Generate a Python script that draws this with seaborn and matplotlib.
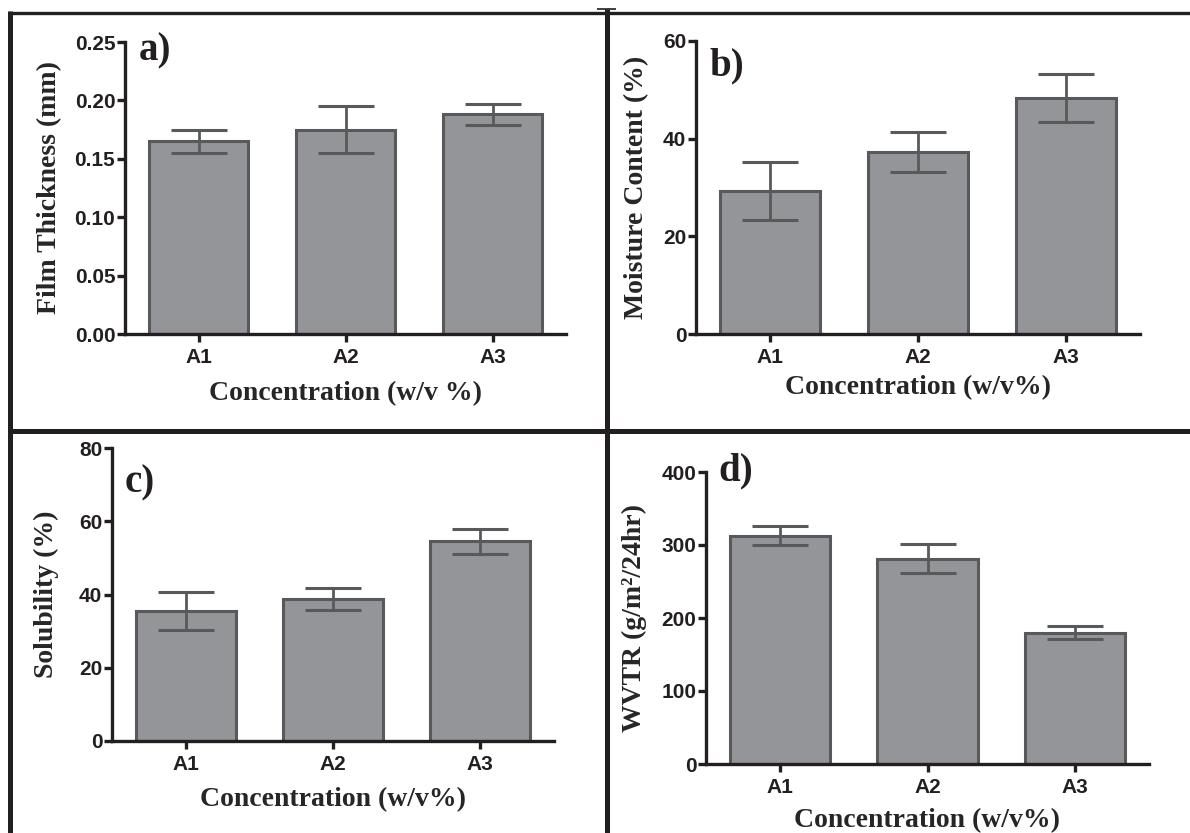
import numpy as np
import pandas as pd
import matplotlib
matplotlib.use("Agg")
import matplotlib.pyplot as plt
from matplotlib.lines import Line2D
import seaborn as sns

# data
categories = ["A1", "A2", "A3"]

thickness = [0.165, 0.175, 0.188]
thickness_err = [0.010, 0.020, 0.009]

moisture = [29.3, 37.2, 48.4]
moisture_err = [5.9, 4.1, 4.9]

solubility = [35.5, 38.8, 54.5]
solubility_err = [5.2, 3.0, 3.4]

wvtr = [313, 281, 180]
wvtr_err = [12.5, 20, 9]

sns.set_theme(style="ticks")

W, H = 1190, 833
fig = plt.figure(figsize=(W / 100, H / 100), dpi=100)

bar_face = "#939598"
bar_edge = "#58595b"
ink = "#231f20"

tick_font = dict(family="Liberation Sans", weight="bold", size=15)
label_font = dict(family="Liberation Serif", weight="bold", size=20)
letter_font = dict(family="Liberation Serif", weight="bold", size=28)


def px_axes(left, right, top, bottom):
    ax = fig.add_axes([left / W, 1 - bottom / H, (right - left) / W, (bottom - top) / H])
    ax._px = (left, right, top, bottom)
    return ax


def draw_panel(ax, vals, errs, ylim, yticks, ylabel, xlabel, ytickfmt,
               ylabel_x, xlabel_y, letter, letter_xy):
    left, right, top, bottom = ax._px
    df = pd.DataFrame({"cat": categories, "val": vals})
    sns.barplot(data=df, x="cat", y="val", color=bar_face, saturation=1,
                edgecolor=bar_edge, linewidth=2.2, width=0.68, errorbar=None, ax=ax)
    ax.errorbar(x=np.arange(len(categories)), y=vals, yerr=errs, fmt="none",
                ecolor=bar_edge, elinewidth=2.0, capsize=20, capthick=2.2, zorder=5)
    ax.set_xlim(-0.5, 2.5)
    ax.set_ylim(*ylim)
    ax.set_yticks(yticks)
    ax.set_yticklabels([ytickfmt.format(t) for t in yticks], fontdict=tick_font)
    ax.set_xticks(range(len(categories)))
    ax.set_xticklabels(categories, fontdict=tick_font)
    ax.set_ylabel(ylabel, fontdict=label_font, va="center", ha="center")
    ax.set_xlabel(xlabel, fontdict=label_font, va="center", ha="center")
    # axis titles at pixel positions
    ax.yaxis.set_label_coords((ylabel_x - left) / (right - left), 0.5)
    ax.xaxis.set_label_coords(0.5, (bottom - xlabel_y) / (bottom - top))
    for s in ["top", "right"]:
        ax.spines[s].set_visible(False)
    for s in ["left", "bottom"]:
        ax.spines[s].set_linewidth(2.4)
        ax.spines[s].set_color(ink)
    ax.tick_params(axis="y", width=2.4, length=5.5, color=ink, pad=1.5, labelcolor=ink)
    ax.tick_params(axis="x", width=2.4, length=6, color=ink, pad=4, labelcolor=ink)
    ax.set_facecolor("none")
    fig.text(letter_xy[0] / W, 1 - letter_xy[1] / H, letter, ha="left", va="top",
             fontdict=letter_font, color=ink)


ax_a = px_axes(125, 566, 42, 334)
draw_panel(ax_a, thickness, thickness_err, (0, 0.25), [0, 0.05, 0.10, 0.15, 0.20, 0.25],
           "Film Thickness (mm)", "Concentration (w/v %)", "{:.2f}",
           50, 394, "a)", (139, 32))

ax_b = px_axes(696, 1140, 41, 334)
draw_panel(ax_b, moisture, moisture_err, (0, 60), [0, 20, 40, 60],
           "Moisture Content (%)", "Concentration (w/v%)", "{:.0f}",
           637, 388, "b)", (709, 47))

ax_c = px_axes(112, 554, 448, 741)
draw_panel(ax_c, solubility, solubility_err, (0, 80), [0, 20, 40, 60, 80],
           "Solubility (%)", "Concentration (w/v%)", "{:.0f}",
           46, 800, "c)", (125, 464))

ax_d = px_axes(706, 1149, 472, 764)
draw_panel(ax_d, wvtr, wvtr_err, (0, 400), [0, 100, 200, 300, 400],
           "WVTR (g/m\u00b2/24hr)", "Concentration (w/v%)", "{:.0f}",
           634, 821, "d)", (718, 452))

# panel frame lines
def fline(x0, y0, x1, y1, lw):
    fig.add_artist(Line2D([x0 / W, x1 / W], [1 - y0 / H, 1 - y1 / H],
                          color=ink, linewidth=lw, solid_capstyle="butt"))

fline(8, 12.5, W, 12.5, 2.4)
fline(10, 10.5, 10, H, 3.6)
fline(607, 9, 607, H, 3.6)
fline(10, 430.5, W, 430.5, 3.6)
fline(597, 9, 616, 9, 1.2)

fig.savefig("out.png", dpi=100)
